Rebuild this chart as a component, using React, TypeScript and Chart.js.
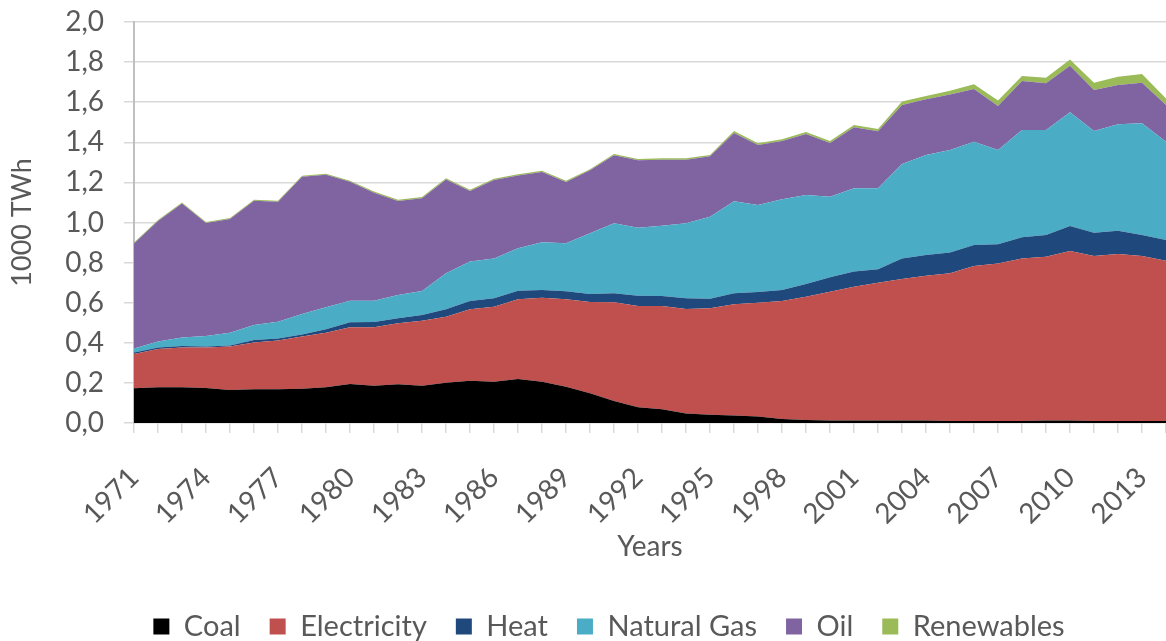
import React, { useEffect, useRef } from 'react';
import { Chart, registerables } from 'chart.js';

Chart.register(...registerables);

const years = [
  '1971', '1972', '1973', '1974', '1975', '1976', '1977', '1978', '1979', '1980',
  '1981', '1982', '1983', '1984', '1985', '1986', '1987', '1988', '1989', '1990',
  '1991', '1992', '1993', '1994', '1995', '1996', '1997', '1998', '1999', '2000',
  '2001', '2002', '2003', '2004', '2005', '2006', '2007', '2008', '2009', '2010',
  '2011', '2012', '2013', '2014',
];

const coal = [
  0.173, 0.178, 0.178, 0.175, 0.165, 0.168, 0.168, 0.171, 0.178, 0.195,
  0.186, 0.193, 0.186, 0.201, 0.211, 0.206, 0.219, 0.206, 0.181, 0.148,
  0.110, 0.078, 0.068, 0.048, 0.041, 0.037, 0.032, 0.020, 0.015, 0.013,
  0.012, 0.012, 0.012, 0.012, 0.010, 0.010, 0.010, 0.010, 0.012, 0.012,
  0.010, 0.010, 0.010, 0.010,
];

const electricity = [
  0.171, 0.191, 0.199, 0.201, 0.216, 0.234, 0.243, 0.260, 0.272, 0.282,
  0.291, 0.304, 0.324, 0.329, 0.356, 0.374, 0.398, 0.419, 0.436, 0.455,
  0.492, 0.506, 0.516, 0.521, 0.531, 0.555, 0.568, 0.588, 0.615, 0.642,
  0.668, 0.688, 0.706, 0.723, 0.737, 0.773, 0.786, 0.811, 0.817, 0.846,
  0.823, 0.833, 0.823, 0.799,
];

const heat = [
  0.008, 0.007, 0.007, 0.005, 0.006, 0.012, 0.011, 0.011, 0.017, 0.025,
  0.027, 0.025, 0.029, 0.037, 0.041, 0.042, 0.043, 0.038, 0.040, 0.040,
  0.045, 0.051, 0.049, 0.053, 0.048, 0.055, 0.053, 0.055, 0.063, 0.072,
  0.075, 0.067, 0.103, 0.103, 0.103, 0.105, 0.095, 0.105, 0.109, 0.125,
  0.116, 0.116, 0.105, 0.104,
];

const naturalGas = [
  0.020, 0.030, 0.043, 0.053, 0.063, 0.075, 0.083, 0.102, 0.110, 0.108,
  0.106, 0.116, 0.119, 0.180, 0.197, 0.199, 0.211, 0.238, 0.239, 0.303,
  0.349, 0.339, 0.351, 0.374, 0.409, 0.459, 0.434, 0.453, 0.444, 0.402,
  0.416, 0.404, 0.471, 0.499, 0.512, 0.515, 0.471, 0.535, 0.523, 0.567,
  0.507, 0.531, 0.557, 0.490,
];

const oil = [
  0.523, 0.602, 0.668, 0.563, 0.567, 0.619, 0.598, 0.684, 0.661, 0.593,
  0.539, 0.469, 0.463, 0.468, 0.352, 0.391, 0.364, 0.351, 0.306, 0.314,
  0.339, 0.336, 0.329, 0.317, 0.301, 0.341, 0.299, 0.290, 0.305, 0.268,
  0.304, 0.284, 0.294, 0.278, 0.276, 0.263, 0.219, 0.245, 0.233, 0.232,
  0.205, 0.196, 0.202, 0.183,
];

const renewables = [
  0.005, 0.005, 0.005, 0.005, 0.005, 0.005, 0.005, 0.005, 0.005, 0.005,
  0.006, 0.006, 0.006, 0.006, 0.006, 0.006, 0.006, 0.006, 0.006, 0.006,
  0.007, 0.007, 0.007, 0.007, 0.007, 0.009, 0.009, 0.009, 0.009, 0.009,
  0.011, 0.011, 0.017, 0.016, 0.019, 0.023, 0.027, 0.025, 0.028, 0.031,
  0.036, 0.041, 0.044, 0.033,
];

const seriesNames = ['Coal', 'Electricity', 'Heat', 'Natural Gas', 'Oil', 'Renewables'];
const seriesColors = ['#000000', '#C0504D', '#1F497D', '#4BACC6', '#8064A2', '#9BBB59'];
const seriesData = [coal, electricity, heat, naturalGas, oil, renewables];

const legendShift = {
  id: 'legendShift',
  afterLayout(chart: any) {
    const l = chart.legend;
    if (l) {
      l.left += 26;
      l.right += 26;
    }
  },
};

export default function App() {
  const ref = useRef<HTMLCanvasElement>(null);

  useEffect(() => {
    const grey = '#595959';
    const font = { family: 'Lato', size: 28 };
    const chart = new Chart(ref.current as HTMLCanvasElement, {
      type: 'line',
      data: {
        labels: years,
        datasets: seriesData.map((d, i) => ({
          label: seriesNames[i],
          data: d,
          backgroundColor: seriesColors[i],
          borderColor: seriesColors[i],
          borderWidth: 0,
          pointRadius: 0,
          fill: i === 0 ? 'origin' : '-1',
          tension: 0,
        })),
      },
      plugins: [legendShift],
      options: {
        responsive: false,
        animation: false,
        devicePixelRatio: 1,
        layout: { padding: { top: 22, left: 0, right: 0, bottom: -10 } },
        plugins: {
          legend: {
            position: 'bottom',
            labels: {
              color: grey,
              font: { family: 'Lato', size: 29 },
              boxWidth: 16,
              boxHeight: 16,
              padding: 29,
            },
          },
          tooltip: { enabled: false },
        },
        scales: {
          x: {
            offset: false,
            grid: {
              display: true,
              drawOnChartArea: false,
              drawTicks: true,
              tickLength: 10,
              color: '#d9d9d9',
              lineWidth: 1.5,
            },
            border: { display: false },
            ticks: {
              autoSkip: false,
              maxRotation: 45,
              minRotation: 45,
              color: grey,
              font,
              padding: 28,
              callback: (_v: any, i: number) => (i % 3 === 0 ? years[i] : ''),
            },
            title: {
              display: true,
              text: 'Years',
              color: grey,
              font,
              padding: { top: 0, bottom: 19 },
            },
            afterFit: (s: any) => {
              s.height = 160;
              s.paddingLeft = 0;
              s.paddingRight = 0;
            },
          },
          y: {
            stacked: true,
            min: 0,
            max: 2,
            grid: { color: '#d9d9d9', lineWidth: 1.5, tickLength: 10 },
            border: { color: '#bfbfbf', width: 2 },
            ticks: {
              stepSize: 0.2,
              color: grey,
              font,
              padding: 20,
              callback: (v: any) => Number(v).toFixed(1).replace('.', ','),
            },
            title: {
              display: true,
              text: '1000 TWh',
              color: grey,
              font: { family: 'Lato', size: 27 },
              padding: { top: 6, bottom: 0 },
            },
            afterFit: (s: any) => {
              s.width = 134;
              s.paddingTop = 0;
              s.paddingBottom = 0;
            },
          },
        },
      } as any,
    });
    return () => chart.destroy();
  }, []);

  return (
    <div style={{ position: 'absolute', left: 0, top: 0, width: 1166, height: 641, background: '#fff' }}>
      <canvas ref={ref} width={1166} height={641} />
    </div>
  );
}
